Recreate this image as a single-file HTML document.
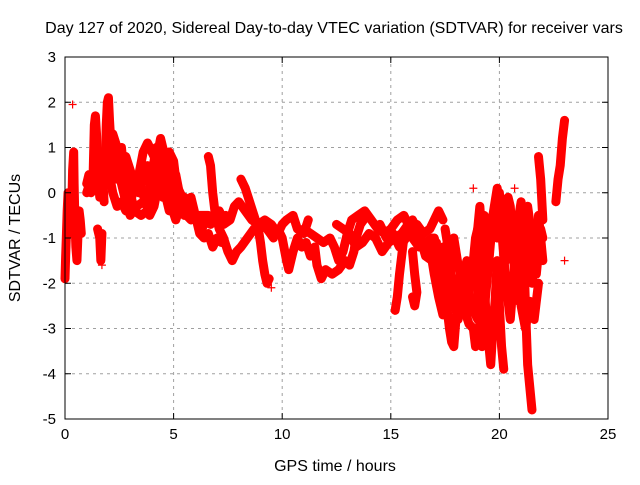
<!DOCTYPE html>
<html><head><meta charset="utf-8"><style>
body{margin:0;background:#fff}
svg text{font-family:"Liberation Sans",sans-serif;font-size:15px;fill:#000}
svg text.big{font-size:16px}
</style></head><body>
<svg id="chart" width="640" height="480" viewBox="0 0 640 480" xmlns="http://www.w3.org/2000/svg">
<rect width="640" height="480" fill="#fff"/>
<text class="big" x="334" y="33" text-anchor="middle">Day 127 of 2020, Sidereal Day-to-day VTEC variation (SDTVAR) for receiver vars</text>
<g id="grid"></g>
<g id="marks"></g>
<rect x="65" y="57" width="543" height="362" fill="none" stroke="#000" stroke-width="1"/>
<g id="ticks"></g>
<text class="big" x="335" y="471" text-anchor="middle">GPS time / hours</text>
<text class="big" transform="translate(20,238) rotate(-90)" text-anchor="middle">SDTVAR / TECUs</text>
</svg>
<script>
const xTicks=[0,5,10,15,20,25];
const yTicks=[3,2,1,0,-1,-2,-3,-4,-5];
const s1=[[0,-1.9],[0.03,-1.4],[0.06,-1.0],[0.1,-0.4],[0.14,0.0],[0.18,-0.5],[0.22,-0.2],[0.25,-0.9],[0.3,-0.6],[0.35,0.5],[0.4,0.9],[0.42,0.2],[0.45,-0.5],[0.5,-1.2],[0.55,-1.5],[0.6,-0.9],[0.65,-0.4],[0.7,-0.6],[0.75,-0.9]];
const s2=[[1.0,0.2],[1.1,0.4],[1.2,0.0],[1.3,0.5],[1.35,1.5],[1.4,1.7],[1.45,1.3],[1.5,0.6],[1.55,0.2],[1.6,-0.1],[1.65,0.3],[1.7,0.8],[1.75,0.2],[1.8,-0.2]];
const s2b=[[1.5,-0.8],[1.6,-1.0],[1.65,-1.5],[1.7,-0.9]];
const s3=[[1.85,0.6],[1.9,1.5],[1.95,2.0],[2.0,2.1],[2.05,1.6],[2.1,1.2],[2.2,0.9],[2.3,0.7],[2.4,0.3],[2.5,0.7],[2.6,1.0],[2.7,0.5],[2.8,0.1],[2.9,0.3],[3.0,0.0],[3.2,-0.4],[3.5,-0.5],[3.8,-0.4],[4.0,-0.1],[4.2,0.3],[4.4,0.6],[4.6,0.5],[4.8,0.9],[5.0,0.7],[5.1,0.3]];
const s4=[[2.0,0.5],[2.2,0.0],[2.4,-0.3],[2.6,-0.2],[2.8,-0.4],[3.0,-0.2],[3.2,0.1],[3.4,0.4],[3.6,0.9],[3.8,1.1],[4.0,0.9],[4.2,0.7],[4.4,1.2],[4.5,1.0],[4.7,0.6],[4.9,0.0],[5.1,0.4],[5.3,-0.1]];
const s5=[[3.5,0.1],[3.7,-0.2],[3.9,-0.5],[4.1,-0.3],[4.3,0.2],[4.5,-0.1],[4.7,0.3],[4.9,-0.3],[5.1,-0.6],[5.3,-0.3],[5.5,-0.1]];
const s6=[[5.0,0.2],[5.2,-0.2],[5.5,-0.5],[5.7,-0.3],[5.9,-0.4],[6.1,-0.6],[6.3,-0.8],[6.5,-0.6],[6.7,-0.7],[6.9,-0.6],[7.1,-0.4],[7.3,-0.6],[7.4,-0.5]];
const s7=[[5.2,0.1],[5.4,-0.1],[5.6,-0.3],[5.8,-0.1],[6.0,-0.5],[6.2,-0.9],[6.4,-1.0],[6.6,-0.9],[6.8,-1.2],[7.0,-1.0],[7.2,-1.1]];
const s8=[[6.6,0.8],[6.7,0.6],[6.8,0.0],[6.9,-0.4],[7.1,-0.8],[7.3,-1.0],[7.5,-1.3],[7.7,-1.5],[7.9,-1.3],[8.1,-1.2],[8.4,-1.0],[8.7,-0.8],[9.0,-0.7],[9.3,-0.8],[9.6,-1.0]];
const s9=[[8.1,0.3],[8.3,0.1],[8.5,-0.2],[8.7,-0.5],[8.9,-0.8],[9.0,-1.1],[9.1,-1.5],[9.2,-1.8],[9.3,-2.0],[9.4,-1.9]];
const s10=[[7.3,-0.7],[7.6,-0.6],[7.8,-0.3],[8.0,-0.2],[8.3,-0.4],[8.6,-0.6],[8.9,-0.7],[9.2,-0.6],[9.5,-0.7],[9.8,-0.9],[10.0,-0.7],[10.2,-0.6],[10.5,-0.5],[10.7,-0.8],[11.0,-0.9],[11.2,-0.6]];
const s11=[[9.5,-0.9],[9.8,-0.8],[10.0,-1.0],[10.2,-1.5],[10.3,-1.7],[10.5,-1.3],[10.7,-1.0],[10.9,-1.2],[11.1,-1.1],[11.3,-1.4],[11.5,-1.2],[11.6,-1.6],[11.8,-1.9],[12.0,-1.7],[12.3,-1.8],[12.6,-1.7],[12.9,-1.5],[13.1,-1.6],[13.3,-1.3],[13.4,-1.0],[13.6,-0.7],[13.9,-0.5]];
const s12=[[11.0,-0.8],[11.3,-0.9],[11.6,-1.0],[11.9,-1.1],[12.2,-1.0],[12.4,-1.2],[12.6,-1.5],[12.8,-1.3],[13.0,-0.9],[13.2,-0.6],[13.5,-0.5],[13.8,-0.4],[14.1,-0.6],[14.4,-0.8],[14.7,-0.9],[15.0,-0.8],[15.3,-0.6],[15.6,-0.5],[15.9,-0.8],[16.2,-0.7],[16.5,-0.9],[16.8,-0.8],[17.0,-0.6],[17.2,-0.4],[17.4,-0.6]];
const s13=[[12.5,-0.7],[12.8,-0.8],[13.1,-0.9],[13.4,-1.2],[13.7,-1.1],[14.0,-0.9],[14.3,-1.0],[14.6,-1.3],[14.9,-1.1],[15.2,-1.0],[15.5,-0.9],[15.8,-0.7],[16.0,-1.0],[16.3,-1.2],[16.6,-1.1],[16.9,-1.0],[17.2,-1.3],[17.4,-1.6]];
const s14=[[15.2,-2.6],[15.3,-2.3],[15.4,-1.8],[15.5,-1.4],[15.6,-1.0]];
const s15=[[16.0,-1.3],[16.1,-1.8],[16.2,-2.2],[16.1,-2.5],[16.0,-2.3]];
const s16=[[17.0,-1.0],[17.2,-1.5],[17.4,-2.0],[17.6,-2.6],[17.7,-3.0],[17.8,-3.3],[17.9,-3.4],[18.0,-2.8],[18.2,-2.2],[18.4,-1.8],[18.6,-2.2],[18.8,-2.6],[19.0,-2.8],[19.1,-2.1],[19.2,-1.3]];
const s17=[[17.4,-1.2],[17.6,-1.6],[17.8,-2.0],[18.0,-1.9],[18.2,-2.4],[18.4,-2.6],[18.6,-2.9],[18.8,-3.0],[18.9,-3.4]];
const s18=[[19.0,-0.8],[19.1,-0.3],[19.2,-1.0],[19.3,-2.0],[19.4,-2.8],[19.5,-3.3],[19.6,-3.8],[19.7,-3.0],[19.8,-2.4],[19.9,-1.5],[20.0,-2.5],[20.1,-3.4],[20.2,-3.9]];
const s19=[[19.9,-0.2],[20.0,0.0],[20.1,-0.5],[20.2,-1.2],[20.3,-0.4],[20.4,-0.1],[20.5,-0.3],[20.6,-1.0],[20.7,-1.8],[20.8,-1.2],[20.9,-0.5],[21.0,-0.2],[21.1,-1.0],[21.2,-2.5],[21.3,-3.8],[21.4,-4.3],[21.5,-4.8]];
const s20=[[20.8,-2.0],[20.9,-2.4],[21.0,-2.0],[21.1,-1.5],[21.2,-1.0],[21.3,-1.4],[21.5,-2.0],[21.6,-1.6],[21.7,-1.2],[21.8,-0.5],[21.9,-1.0],[22.0,-1.5]];
const s21=[[22.6,-0.2],[22.7,0.3],[22.8,0.6],[22.9,1.2],[23.0,1.6]];
const s22=[[21.8,0.8],[21.9,0.3],[22.0,-0.6]];
const s23=[[2.2,1.3],[2.4,1.0],[2.6,0.6],[2.8,0.8],[3.0,0.5],[3.2,0.2],[3.4,0.0],[3.6,0.3],[3.8,0.6],[4.0,0.4],[4.2,1.0],[4.4,0.9],[4.6,0.2],[4.8,0.4],[5.0,-0.2]];
const s24=[[1.0,0.0],[1.2,0.3],[1.4,0.1],[1.6,0.5],[1.8,0.3],[2.0,0.9],[2.2,0.4],[2.4,0.6],[2.6,0.2],[2.8,-0.2],[3.0,-0.5],[3.3,-0.3],[3.6,-0.2],[3.9,0.1],[4.1,0.6],[4.3,0.8],[4.6,0.0],[4.8,-0.4],[5.0,-0.2],[5.4,-0.4],[5.8,-0.6],[6.2,-0.5],[6.6,-0.5]];
const s25=[[17.5,-0.8],[17.7,-1.4],[17.9,-1.0],[18.1,-1.6],[18.3,-2.0],[18.5,-1.5],[18.7,-2.0],[18.9,-1.0],[19.1,-0.6],[19.3,-0.5],[19.5,-1.2],[19.7,-0.8],[19.9,-1.0],[20.1,-0.3],[20.3,-1.5],[20.5,-0.8],[20.7,-0.5],[20.9,-1.5],[21.1,-0.6],[21.3,-0.3],[21.5,-1.0],[21.7,-1.8],[21.9,-0.8],[22.0,-1.0]];
const s26=[[18.9,-1.5],[19.0,-2.0],[19.1,-2.9],[19.2,-3.4],[19.3,-2.6],[19.5,-1.6],[19.7,-0.5],[19.9,0.1],[20.1,-0.8],[20.3,-2.0],[20.5,-2.8],[20.6,-2.2],[20.8,-1.0],[21.0,-2.5],[21.2,-3.0],[21.4,-2.4],[21.6,-2.8],[21.8,-2.0]];
const s27=[[16.8,-1.2],[17.0,-1.8],[17.2,-2.3],[17.4,-2.7],[17.5,-2.2],[17.7,-1.5],[17.9,-2.4],[18.1,-2.8],[18.3,-2.3],[18.5,-2.7],[18.7,-1.8]];
const s28=[[14.5,-0.7],[14.8,-1.0],[15.1,-0.9],[15.4,-1.2],[15.7,-1.0],[16.0,-0.6],[16.3,-0.9],[16.6,-1.4],[16.9,-1.5],[17.1,-1.1]];
const isolated=[[0.35,1.95],[23.0,-1.5],[18.8,0.1],[19.1,-0.5],[20.7,0.1],[1.7,-1.6],[9.5,-2.1]];
const tracks=[s1,s2,s2b,s3,s4,s5,s6,s7,s8,s9,s10,s11,s12,s13,s14,s15,s16,s17,s18,s19,s20,s21,s22,s23,s24,s25,s26,s27,s28];

const X0=65,X1=608,Y0=419,Y1=57;
function xs(v){return X0+(v-0)/(25-0)*(X1-X0);}
function ys(v){return Y0-(v+5)/(3+5)*(Y0-Y1);}
const NS="http://www.w3.org/2000/svg";
const grid=document.getElementById('grid'),marks=document.getElementById('marks'),ticks=document.getElementById('ticks');
function mk(t,a,p){const e=document.createElementNS(NS,t);for(const k in a)e.setAttribute(k,a[k]);p.appendChild(e);return e;}
xTicks.forEach(v=>{
  const x=xs(v);
  if(v>0&&v<25){const g=mk('line',{x1:x,x2:x,y1:Y1,y2:Y0,stroke:'#a0a0a0','stroke-dasharray':'3,4'},grid);
  
  }
  mk('line',{x1:x,x2:x,y1:Y0,y2:Y0-6,stroke:'#000'},ticks);
  mk('line',{x1:x,x2:x,y1:Y1,y2:Y1+6,stroke:'#000'},ticks);
  const t=mk('text',{x:x,y:Y0+20,'text-anchor':'middle'},ticks);t.textContent=v;
  
  
});
yTicks.forEach(v=>{
  const y=ys(v);
  if(v<3&&v>-5){const g=mk('line',{x1:X0,x2:X1,y1:y,y2:y,stroke:'#a0a0a0','stroke-dasharray':'3,4'},grid);
  
  }
  mk('line',{x1:X0,x2:X0+6,y1:y,y2:y,stroke:'#000'},ticks);
  mk('line',{x1:X1,x2:X1-6,y1:y,y2:y,stroke:'#000'},ticks);
  const t=mk('text',{x:X0-9,y:y+5,'text-anchor':'end'},ticks);t.textContent=v;
  
  
});
function cross(p){
  const x=xs(p[0]),y=ys(p[1]);
  const c=mk('path',{d:`M${x-4},${y}H${x+4}M${x},${y-4}V${y+4}`,stroke:'#f00','stroke-width':1.2},marks);
  
  
}
tracks.forEach(tr=>{
  const l=mk('polyline',{points:tr.map(p=>xs(p[0])+','+ys(p[1])).join(' '),fill:'none',stroke:'#f00','stroke-width':9,'stroke-linejoin':'round','stroke-linecap':'round'},marks);
  
  
  tr.forEach(cross);
});
isolated.forEach(cross);
</script>
</body></html>
